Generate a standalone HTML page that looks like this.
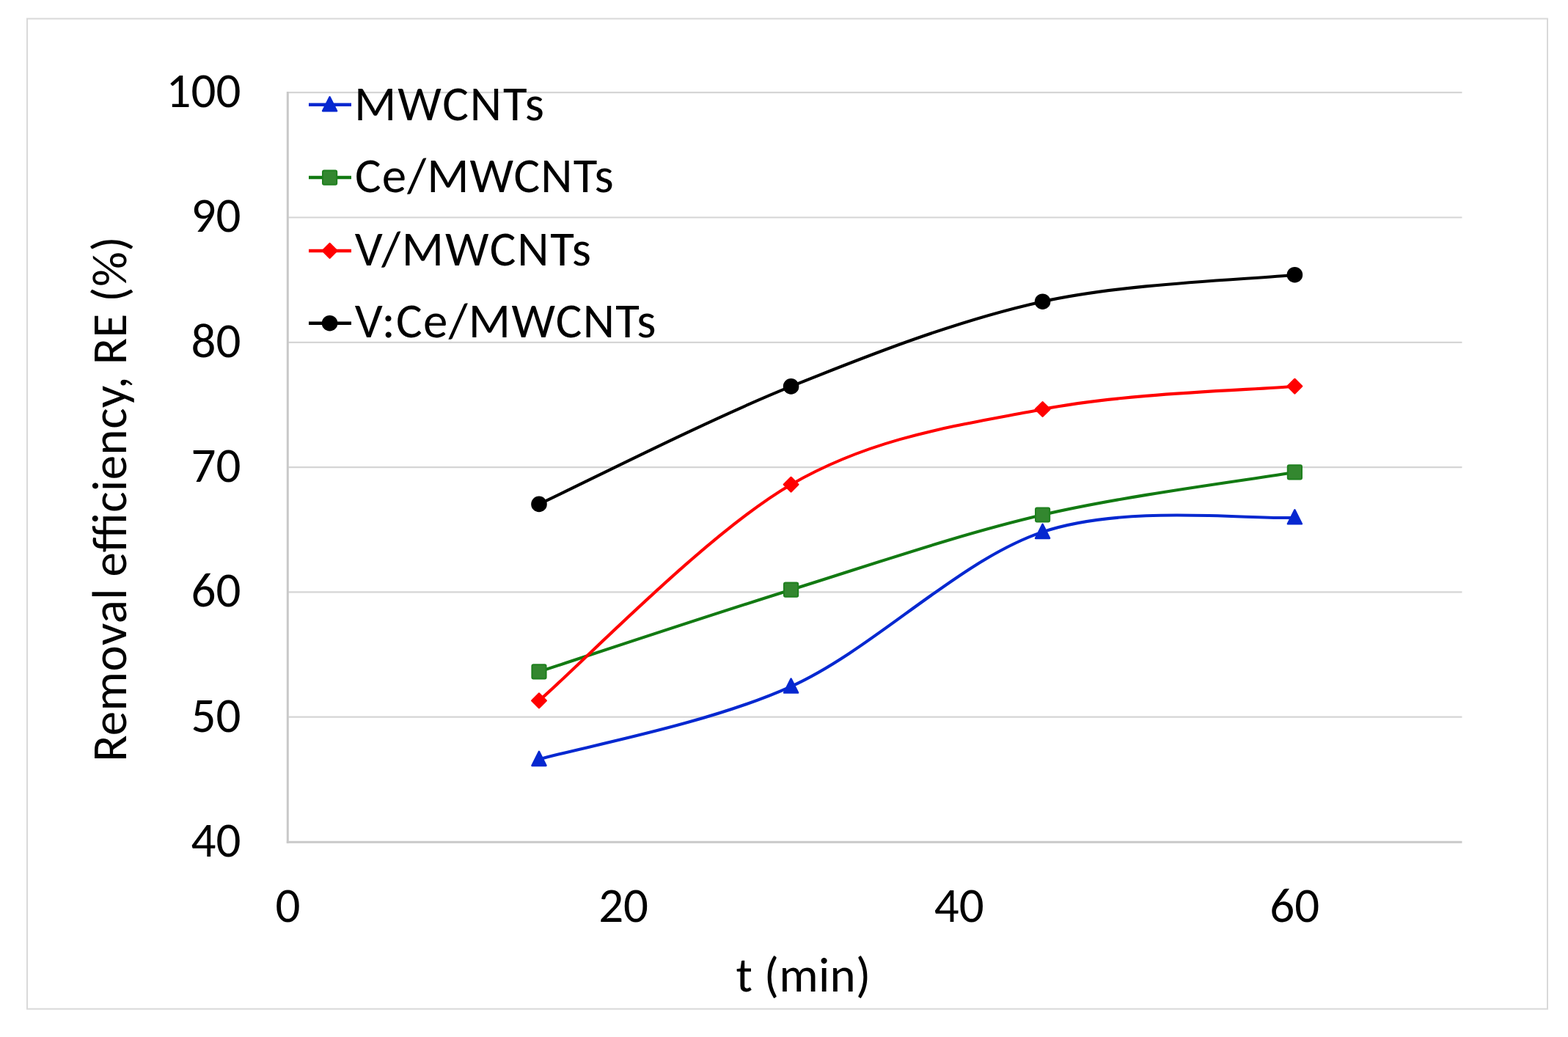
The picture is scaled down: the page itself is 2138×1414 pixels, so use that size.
<!DOCTYPE html>
<html><head><meta charset="utf-8"><title>Removal efficiency chart</title>
<style>html,body{margin:0;padding:0;background:#fff;width:2138px;height:1414px;overflow:hidden}svg{display:block}</style>
</head><body>
<svg width="2138" height="1414" viewBox="0 0 2138 1414" font-family='"Carlito", "Liberation Sans", sans-serif' fill="#000" text-rendering="geometricPrecision">
<rect x="37" y="25.5" width="2073" height="1350.2" fill="#fff" stroke="#d9d9d9" stroke-width="2"/>
<line x1="392" y1="977.70" x2="1993.5" y2="977.70" stroke="#d5d5d5" stroke-width="2.2"/>
<line x1="392" y1="807.40" x2="1993.5" y2="807.40" stroke="#d5d5d5" stroke-width="2.2"/>
<line x1="392" y1="637.10" x2="1993.5" y2="637.10" stroke="#d5d5d5" stroke-width="2.2"/>
<line x1="392" y1="466.80" x2="1993.5" y2="466.80" stroke="#d5d5d5" stroke-width="2.2"/>
<line x1="392" y1="296.50" x2="1993.5" y2="296.50" stroke="#d5d5d5" stroke-width="2.2"/>
<line x1="392" y1="126.20" x2="1993.5" y2="126.20" stroke="#d5d5d5" stroke-width="2.2"/>
<line x1="392.3" y1="125" x2="392.3" y2="1149.8" stroke="#c9c9c9" stroke-width="3"/>
<line x1="390.8" y1="1148.3" x2="1993.5" y2="1148.3" stroke="#c9c9c9" stroke-width="3"/>
<text x="328.50" y="1167.80" font-size="67" text-anchor="end" textLength="67.92" lengthAdjust="spacing">40</text>
<text x="328.50" y="997.50" font-size="67" text-anchor="end" textLength="67.92" lengthAdjust="spacing">50</text>
<text x="328.50" y="827.20" font-size="67" text-anchor="end" textLength="67.92" lengthAdjust="spacing">60</text>
<text x="328.50" y="656.90" font-size="67" text-anchor="end" textLength="67.92" lengthAdjust="spacing">70</text>
<text x="328.50" y="486.60" font-size="67" text-anchor="end" textLength="67.92" lengthAdjust="spacing">80</text>
<text x="328.50" y="316.30" font-size="67" text-anchor="end" textLength="67.92" lengthAdjust="spacing">90</text>
<text x="328.50" y="146.00" font-size="67" text-anchor="end" textLength="101.88" lengthAdjust="spacing">100</text>
<text x="392.50" y="1257.40" font-size="67" text-anchor="middle" textLength="33.97" lengthAdjust="spacing">0</text>
<text x="850.10" y="1257.40" font-size="67" text-anchor="middle" textLength="67.92" lengthAdjust="spacing">20</text>
<text x="1307.70" y="1257.40" font-size="67" text-anchor="middle" textLength="67.92" lengthAdjust="spacing">40</text>
<text x="1765.30" y="1257.40" font-size="67" text-anchor="middle" textLength="67.92" lengthAdjust="spacing">60</text>
<text x="1095.44" y="1352.20" font-size="67" text-anchor="middle" textLength="183.72" lengthAdjust="spacing">t (min)</text>
<g transform="translate(171.70,680.7) rotate(-90)"><text x="0.07" y="0.00" font-size="67" text-anchor="middle" textLength="716.50" lengthAdjust="spacing">Removal efficiency, RE (%)</text></g>
<path d="M735.00,1035.40 C792.27,1018.85 964.17,987.77 1078.60,936.10 C1193.03,884.43 1307.13,763.78 1421.60,725.40 C1536.07,687.02 1708.10,709.07 1765.40,705.80" fill="none" stroke="#0628d0" stroke-width="4.1" stroke-linecap="round" stroke-linejoin="round"/>
<path d="M735.00,1024.90 L744.50,1043.90 L725.50,1043.90 Z" fill="#0628d0" stroke="#0628d0" stroke-width="2.5" stroke-linejoin="round"/>
<path d="M1078.60,925.60 L1088.10,944.60 L1069.10,944.60 Z" fill="#0628d0" stroke="#0628d0" stroke-width="2.5" stroke-linejoin="round"/>
<path d="M1421.60,714.90 L1431.10,733.90 L1412.10,733.90 Z" fill="#0628d0" stroke="#0628d0" stroke-width="2.5" stroke-linejoin="round"/>
<path d="M1765.40,695.30 L1774.90,714.30 L1755.90,714.30 Z" fill="#0628d0" stroke="#0628d0" stroke-width="2.5" stroke-linejoin="round"/>
<path d="M735.00,915.90 C792.27,897.28 964.17,839.85 1078.60,804.20 C1193.03,768.55 1307.13,728.72 1421.60,702.00 C1536.07,675.28 1708.10,653.58 1765.40,643.90" fill="none" stroke="#127a12" stroke-width="4.1" stroke-linecap="round" stroke-linejoin="round"/>
<rect x="725.40" y="906.30" width="19.20" height="19.20" rx="2" fill="#33872f" stroke="#1f801f" stroke-width="2" stroke-linejoin="round"/>
<rect x="1069.00" y="794.60" width="19.20" height="19.20" rx="2" fill="#33872f" stroke="#1f801f" stroke-width="2" stroke-linejoin="round"/>
<rect x="1412.00" y="692.40" width="19.20" height="19.20" rx="2" fill="#33872f" stroke="#1f801f" stroke-width="2" stroke-linejoin="round"/>
<rect x="1755.80" y="634.30" width="19.20" height="19.20" rx="2" fill="#33872f" stroke="#1f801f" stroke-width="2" stroke-linejoin="round"/>
<path d="M735.00,955.30 C792.27,906.20 964.17,726.92 1078.60,660.70 C1193.03,594.48 1307.13,580.33 1421.60,558.00 C1536.07,535.67 1708.10,531.92 1765.40,526.70" fill="none" stroke="#ff0000" stroke-width="4.1" stroke-linecap="round" stroke-linejoin="round"/>
<path d="M735.00,945.60 L744.70,955.30 L735.00,965.00 L725.30,955.30 Z" fill="#ff0000" stroke="#ff0000" stroke-width="2.5" stroke-linejoin="round"/>
<path d="M1078.60,651.00 L1088.30,660.70 L1078.60,670.40 L1068.90,660.70 Z" fill="#ff0000" stroke="#ff0000" stroke-width="2.5" stroke-linejoin="round"/>
<path d="M1421.60,548.30 L1431.30,558.00 L1421.60,567.70 L1411.90,558.00 Z" fill="#ff0000" stroke="#ff0000" stroke-width="2.5" stroke-linejoin="round"/>
<path d="M1765.40,517.00 L1775.10,526.70 L1765.40,536.40 L1755.70,526.70 Z" fill="#ff0000" stroke="#ff0000" stroke-width="2.5" stroke-linejoin="round"/>
<path d="M735.00,687.40 C792.27,660.65 964.17,572.93 1078.60,526.90 C1193.03,480.87 1307.13,436.57 1421.60,411.20 C1536.07,385.83 1708.10,380.78 1765.40,374.70" fill="none" stroke="#000000" stroke-width="4.1" stroke-linecap="round" stroke-linejoin="round"/>
<circle cx="735.00" cy="687.40" r="10.80" fill="#000000"/>
<circle cx="1078.60" cy="526.90" r="10.80" fill="#000000"/>
<circle cx="1421.60" cy="411.20" r="10.80" fill="#000000"/>
<circle cx="1765.40" cy="374.70" r="10.80" fill="#000000"/>
<line x1="421" y1="142.80" x2="479" y2="142.80" stroke="#0628d0" stroke-width="4.5"/>
<path d="M449.60,132.30 L459.10,151.30 L440.10,151.30 Z" fill="#0628d0" stroke="#0628d0" stroke-width="2.5" stroke-linejoin="round"/>
<text x="482.98" y="163.50" font-size="67" textLength="258.96" lengthAdjust="spacing">MWCNTs</text>
<line x1="421" y1="242.10" x2="479" y2="242.10" stroke="#127a12" stroke-width="4.5"/>
<rect x="440.00" y="232.50" width="19.20" height="19.20" rx="2" fill="#33872f" stroke="#1f801f" stroke-width="2" stroke-linejoin="round"/>
<text x="483.98" y="262.10" font-size="67" textLength="352.68" lengthAdjust="spacing">Ce/MWCNTs</text>
<line x1="421" y1="341.90" x2="479" y2="341.90" stroke="#ff0000" stroke-width="4.5"/>
<path d="M449.60,332.20 L459.30,341.90 L449.60,351.60 L439.90,341.90 Z" fill="#ff0000" stroke="#ff0000" stroke-width="2.5" stroke-linejoin="round"/>
<text x="483.80" y="361.50" font-size="67" textLength="322.20" lengthAdjust="spacing">V/MWCNTs</text>
<line x1="421" y1="440.70" x2="479" y2="440.70" stroke="#000000" stroke-width="4.5"/>
<circle cx="449.60" cy="440.70" r="10.80" fill="#000000"/>
<text x="483.75" y="460.10" font-size="67" textLength="410.73" lengthAdjust="spacing">V:Ce/MWCNTs</text>
</svg>
<script>
(function(){try{var c=document.createElement('canvas').getContext('2d');var s='iiiiiWWWmm';c.font='50px monospace';var a=c.measureText(s).width;c.font='50px Carlito, monospace';var b=c.measureText(s).width;if(Math.abs(a-b)<0.5){var t=document.querySelectorAll('svg text');for(var i=0;i<t.length;i++){t[i].setAttribute('lengthAdjust','spacingAndGlyphs');t[i].setAttribute('font-size','61');}}}catch(e){}})();
</script>
</body></html>
